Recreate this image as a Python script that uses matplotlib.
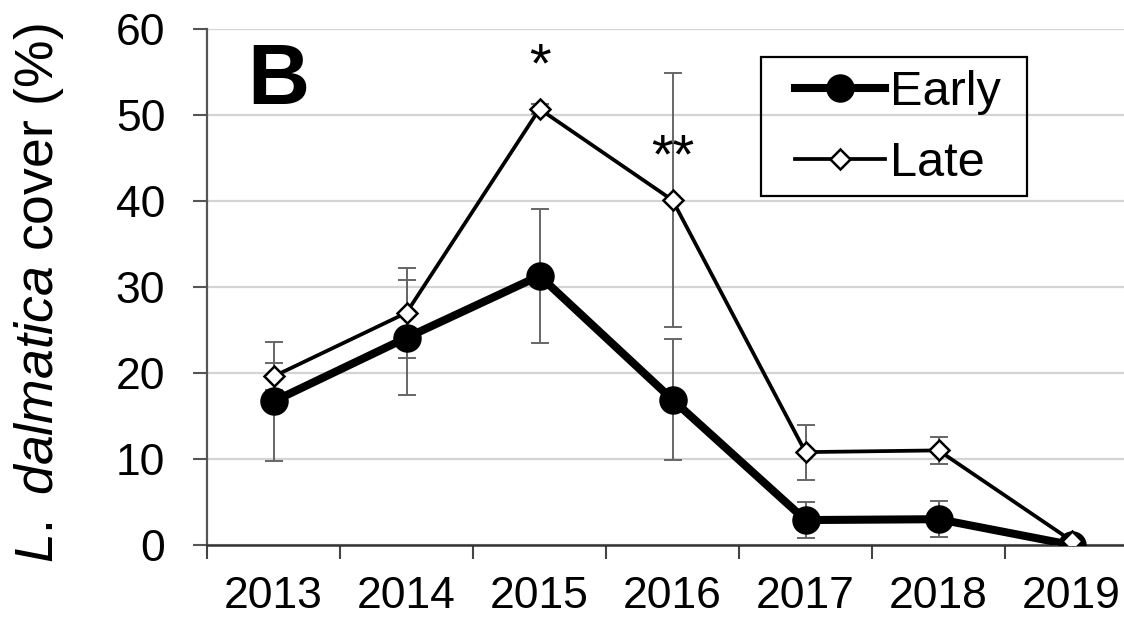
import matplotlib
matplotlib.use("Agg")
import matplotlib.pyplot as plt
from matplotlib.patches import Rectangle
import numpy as np

plt.rcParams['font.family'] = ['Liberation Sans', 'DejaVu Sans']
plt.rcParams['mathtext.fontset'] = 'custom'
plt.rcParams['mathtext.rm'] = 'Liberation Sans'
plt.rcParams['mathtext.it'] = 'Liberation Sans:italic'

years = ['2013', '2014', '2015', '2016', '2017', '2018', '2019']
early = [16.7, 24.1, 31.3, 16.9, 2.9, 3.0, 0.0]
early_err = [6.9, 6.7, 7.8, 7.0, 2.1, 2.1, 0.0]
late = [19.6, 27.0, 50.7, 40.1, 10.8, 11.0, 0.5]
late_err = [1.6, 5.2, 0.6, 14.8, 3.2, 1.6, 0.0]
signif = {'2015': '*', '2016': '**'}

W, H = 1124, 618
fig = plt.figure(figsize=(W / 100, H / 100), dpi=100)
ax = fig.add_axes([207 / W, 73 / H, 931 / W, 516 / H])

x = np.arange(len(years))

# error bars sit behind the markers
ax.errorbar(x, early, yerr=early_err, fmt='none', ecolor='#666666',
            elinewidth=1.4, capsize=6.5, capthick=1.4, zorder=2)
ax.errorbar(x, late, yerr=late_err, fmt='none', ecolor='#666666',
            elinewidth=1.4, capsize=6.5, capthick=1.4, zorder=2)

ax.plot(x, early, color='black', lw=5.8, marker='o', markersize=19.5,
        markerfacecolor='black', markeredgecolor='black', label='Early', zorder=3)
ax.plot(x, late, color='black', lw=2.7, marker='D', markersize=10.5,
        markerfacecolor='white', markeredgecolor='black', markeredgewidth=1.8,
        label='Late', zorder=4)

# significance marks above the Late series
for yr, mark in signif.items():
    i = years.index(yr)
    ax.annotate(mark, (i, late[i]), xytext=(0, 11), textcoords='offset points',
                ha='center', va='bottom', fontsize=40)

ax.set_xlim(-0.5, len(years) - 0.5)
ax.set_ylim(0, 60)
ax.set_yticks(np.arange(0, 61, 10))
ax.set_xticks(x)
ax.set_xticklabels(years)
ax.set_xticks(np.arange(-0.5, len(years), 1.0), minor=True)

ax.grid(axis='y', color='#d4d4d4', lw=1.6, zorder=0)
ax.set_axisbelow(True)

for s in ('top', 'right'):
    ax.spines[s].set_visible(False)
ax.spines['left'].set_color('#555555')
ax.spines['left'].set_linewidth(1.6)
ax.spines['bottom'].set_color('#333333')
ax.spines['bottom'].set_linewidth(1.8)

ax.tick_params(axis='y', direction='out', length=10, width=1.5, color='#555555',
               pad=20, labelsize=32)
ax.tick_params(axis='x', which='major', length=0, pad=22, labelsize=32)
ax.tick_params(axis='x', which='minor', direction='out', length=10, width=1.5,
               color='#444444')

ax.set_ylabel(r'$\it{L.\ dalmatica}$ cover (%)', fontsize=38.5, labelpad=36)
ax.yaxis.label.set_y(0.488)

ax.text(0.043, 0.975, 'B', transform=ax.transAxes, fontsize=62,
        fontweight='bold', ha='left', va='top')

# legend entries without a frame, boxed separately
leg = ax.legend(loc='center left', bbox_to_anchor=(795 / W, 1 - 128 / H),
                bbox_transform=fig.transFigure, borderaxespad=0, borderpad=0,
                fontsize=35, handlelength=1.85, handletextpad=0.1,
                labelspacing=0.55, frameon=False)
fig.add_artist(Rectangle((761 / W, 1 - 196 / H), 266 / W, 139 / H,
                         transform=fig.transFigure, facecolor='none',
                         edgecolor='black', linewidth=1.6, zorder=6))

fig.savefig('out.png', dpi=100, facecolor='white')
